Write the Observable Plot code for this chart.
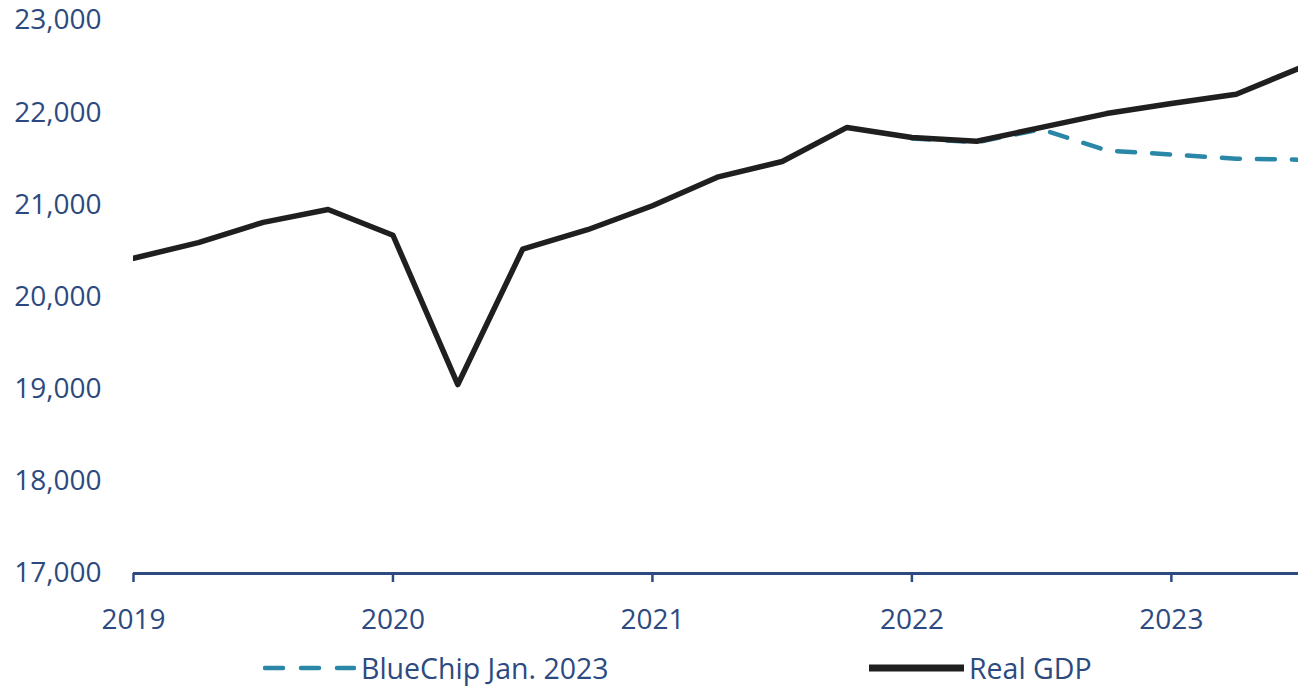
<!DOCTYPE html>
<html>
<head>
<meta charset="utf-8">
<script src="https://cdn.jsdelivr.net/npm/d3@7"></script>
<script src="https://cdn.jsdelivr.net/npm/@observablehq/plot@0.6"></script>
<style>
  html, body { margin: 0; padding: 0; background: #ffffff; }
  body { width: 1298px; height: 688px; overflow: hidden; font-family: "Open Sans", sans-serif; }
  #chart svg { display: block; }
  .legend { position: relative; height: 43px; font-size: 28.5px; line-height: 46px; color: #2c4a80; }
  .legend .item { position: absolute; top: 0; white-space: nowrap; display: flex; align-items: center; height: 46px; }
  .legend svg { display: block; margin-right: 5px; }
</style>
</head>
<body>
<div id="chart"></div>
<div class="legend" id="legend"></div>
<script>
// Quarterly periods (decimal year at quarter start)
const quarters = [
  2019.00, 2019.25, 2019.50, 2019.75,
  2020.00, 2020.25, 2020.50, 2020.75,
  2021.00, 2021.25, 2021.50, 2021.75,
  2022.00, 2022.25, 2022.50, 2022.75,
  2023.00, 2023.25, 2023.50
];
// Real GDP, billions of chained dollars (SAAR)
const realGdp = [
  20420, 20590, 20810, 20950,
  20670, 19050, 20520, 20730,
  20990, 21300, 21470, 21840,
  21730, 21690, 21840, 21990,
  22100, 22200, 22490
];
// Blue Chip consensus path, January 2023
const blueChipQuarters = [2022.00, 2022.25, 2022.50, 2022.75, 2023.00, 2023.25, 2023.50];
const blueChip = [21720, 21680, 21820, 21590, 21545, 21500, 21490];

const yTicks = [17000, 18000, 19000, 20000, 21000, 22000, 23000];
const xTicks = [2019, 2020, 2021, 2022, 2023];

const seriesNames = ["BlueChip Jan. 2023", "Real GDP"];
const navy = "#2c4a80";
const blueColor = "#2a87a8";
const gdpColor = "#1f1f1f";

const gdpRows = quarters.map((q, i) => ({ q, v: realGdp[i] }));
const bcRows = blueChipQuarters.map((q, i) => ({ q, v: blueChip[i] }));

const chart = Plot.plot({
  width: 1298,
  height: 645,
  marginLeft: 133,
  marginRight: 0,
  marginTop: 20,
  marginBottom: 72,
  style: { fontFamily: "'Open Sans', sans-serif", fontSize: "28px", color: navy, background: "#ffffff" },
  x: { domain: [2019, 2023.49], ticks: xTicks, tickFormat: d => String(d) },
  y: { domain: [17000, 23000], ticks: yTicks, tickFormat: d3.format(",") },
  marks: [
    Plot.axisY({ ticks: yTicks, tickFormat: d3.format(","), tickSize: 0, tickPadding: 32, label: null, fill: navy, fontSize: 28 }),
    Plot.axisX({ ticks: xTicks, tickFormat: d => String(d), tickSize: 9, tickPadding: 27, label: null, stroke: navy, strokeWidth: 2.5, fill: navy, fontSize: 28 }),
    Plot.ruleY([17000], { stroke: navy, strokeWidth: 3 }),
    Plot.line(bcRows, { x: "q", y: "v", stroke: blueColor, strokeWidth: 4.5, strokeDasharray: "18,17", strokeLinecap: "round", clip: true }),
    Plot.line(gdpRows, { x: "q", y: "v", stroke: gdpColor, strokeWidth: 5.5, strokeLinejoin: "round", clip: true })
  ]
});
document.getElementById("chart").appendChild(chart);

// Legend below the chart
const legend = document.getElementById("legend");
const legendItems = [
  { name: seriesNames[0], left: 263, swatch: `<svg width="93" height="10"><line x1="2" y1="5" x2="91" y2="5" stroke="${blueColor}" stroke-width="4.5" stroke-dasharray="18,18" stroke-linecap="round"/></svg>` },
  { name: seriesNames[1], left: 869, swatch: `<svg width="95" height="10"><line x1="0" y1="5" x2="95" y2="5" stroke="${gdpColor}" stroke-width="7"/></svg>` }
];
for (const it of legendItems) {
  const div = document.createElement("div");
  div.className = "item";
  div.style.left = it.left + "px";
  div.innerHTML = it.swatch + `<span>${it.name}</span>`;
  legend.appendChild(div);
}
</script>
</body>
</html>
